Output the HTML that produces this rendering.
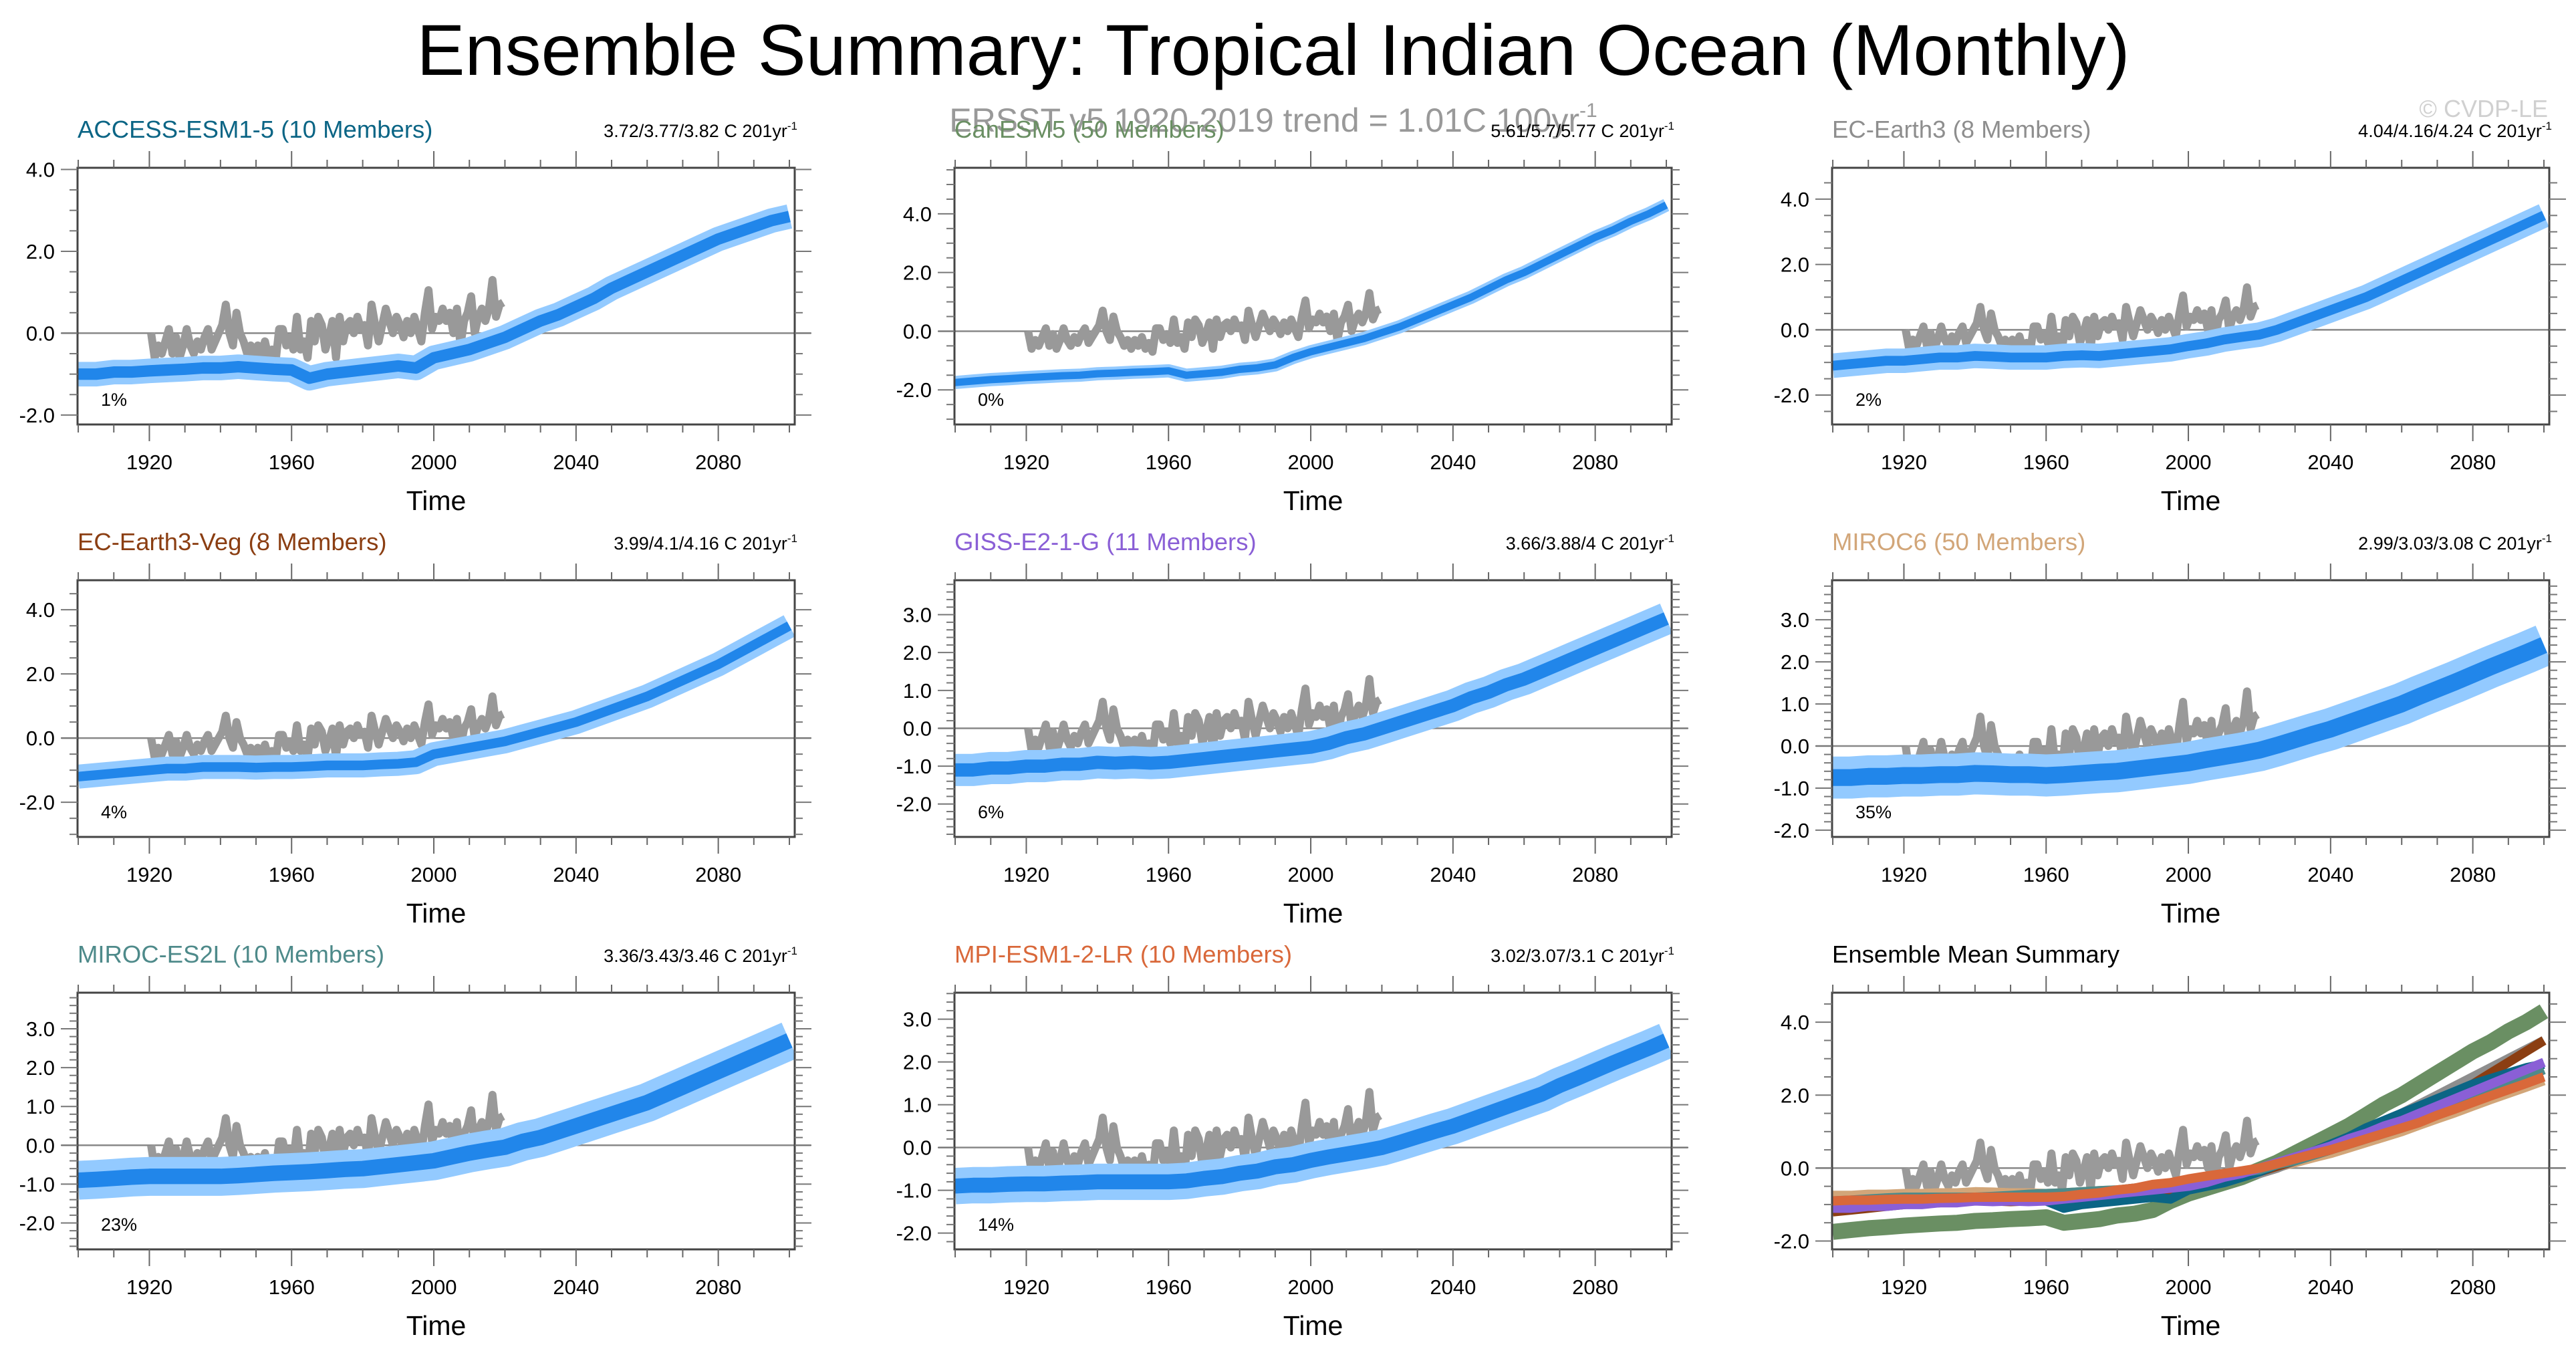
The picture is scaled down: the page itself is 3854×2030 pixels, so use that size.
<!DOCTYPE html>
<html><head><meta charset="utf-8"><style>
html,body{margin:0;padding:0;background:#fff}
svg{display:block;font-family:"Liberation Sans",sans-serif}
</style></head><body>
<svg id="fig" width="3854" height="2030" viewBox="0 0 3854 2030" xmlns="http://www.w3.org/2000/svg">
<text x="1905" y="112" font-size="108" text-anchor="middle" fill="#000">Ensemble Summary: Tropical Indian Ocean (Monthly)</text>
<text x="1905" y="197" font-size="50" text-anchor="middle" fill="#999">ERSST v5 1920-2019 trend = 1.01C 100yr<tspan dy="-22" font-size="30">-1</tspan></text>
<text x="3812" y="175" font-size="36" text-anchor="end" fill="#d0d0d0">© CVDP-LE</text>
</svg>
<script>
// ---- data ----
const obsStartYear = 1920;
const obsValues = [0.0,-0.6,-0.3,-0.5,-0.2,0.1,-0.5,-0.1,-0.6,-0.3,0.1,-0.3,-0.5,-0.2,-0.4,-0.1,0.1,-0.4,-0.2,0.0,0.2,0.7,0.0,-0.3,0.5,0.0,-0.2,-0.5,-0.3,-0.6,-0.3,-0.5,-0.2,-0.6,-0.4,-0.7,0.1,0.1,-0.3,-0.1,-0.4,0.4,-0.4,-0.2,-0.6,0.3,-0.2,0.4,0.2,-0.4,-0.1,0.3,-0.6,0.4,-0.2,0.2,0.3,0.0,0.4,0.1,0.2,-0.3,0.7,0.2,-0.2,0.2,0.6,0.3,0.0,0.4,0.2,-0.1,0.3,0.0,0.4,0.1,-0.2,0.5,1.05,0.1,0.4,0.3,0.6,0.3,0.5,0.0,0.6,-0.3,0.3,0.5,0.9,0.0,0.4,0.6,0.3,0.6,1.3,0.4,0.7,0.75];
const modelStartYear = 1900;
const modelStep = 5;
const modelNames = ["ACCESS-ESM1-5 (10 Members)","CanESM5 (50 Members)","EC-Earth3 (8 Members)","EC-Earth3-Veg (8 Members)","GISS-E2-1-G (11 Members)","MIROC6 (50 Members)","MIROC-ES2L (10 Members)","MPI-ESM1-2-LR (10 Members)"];
const trendLabels = ["3.72/3.77/3.82 C 201yr","5.61/5.7/5.77 C 201yr","4.04/4.16/4.24 C 201yr","3.99/4.1/4.16 C 201yr","3.66/3.88/4 C 201yr","2.99/3.03/3.08 C 201yr","3.36/3.43/3.46 C 201yr","3.02/3.07/3.1 C 201yr"];
const pctLabels = ["1%","0%","2%","4%","6%","35%","23%","14%"];
const accessMean = [-1.0,-1.0,-0.95,-0.95,-0.92,-0.9,-0.88,-0.85,-0.85,-0.82,-0.85,-0.88,-0.9,-1.1,-1.0,-0.95,-0.9,-0.85,-0.8,-0.85,-0.6,-0.5,-0.4,-0.25,-0.1,0.1,0.3,0.45,0.65,0.85,1.1,1.3,1.5,1.7,1.9,2.1,2.3,2.45,2.6,2.75,2.85];
const canesmMean = [-1.75,-1.7,-1.65,-1.62,-1.58,-1.55,-1.52,-1.5,-1.45,-1.43,-1.4,-1.38,-1.35,-1.5,-1.45,-1.4,-1.3,-1.25,-1.15,-0.9,-0.7,-0.55,-0.4,-0.25,-0.05,0.15,0.4,0.65,0.9,1.15,1.45,1.75,2.0,2.3,2.6,2.9,3.2,3.45,3.75,4.0,4.3];
const ecearthMean = [-1.1,-1.05,-1.0,-0.95,-0.95,-0.9,-0.85,-0.85,-0.8,-0.82,-0.85,-0.85,-0.85,-0.8,-0.78,-0.8,-0.75,-0.7,-0.65,-0.6,-0.5,-0.42,-0.3,-0.22,-0.15,0.0,0.2,0.4,0.6,0.8,1.0,1.25,1.5,1.75,2.0,2.25,2.5,2.75,3.0,3.25,3.5];
const ecvegMean = [-1.2,-1.15,-1.1,-1.05,-1.0,-0.95,-0.95,-0.9,-0.9,-0.9,-0.92,-0.9,-0.9,-0.88,-0.85,-0.85,-0.85,-0.82,-0.8,-0.75,-0.5,-0.4,-0.3,-0.2,-0.1,0.05,0.2,0.35,0.5,0.7,0.9,1.1,1.3,1.55,1.8,2.05,2.3,2.6,2.9,3.2,3.5];
const gissMean = [-1.1,-1.1,-1.05,-1.05,-1.0,-1.0,-0.95,-0.95,-0.9,-0.92,-0.9,-0.92,-0.9,-0.85,-0.8,-0.75,-0.7,-0.65,-0.6,-0.55,-0.5,-0.4,-0.25,-0.15,0.0,0.15,0.3,0.45,0.6,0.8,0.95,1.15,1.3,1.5,1.7,1.9,2.1,2.3,2.5,2.7,2.9];
const miroc6Mean = [-0.75,-0.75,-0.72,-0.72,-0.7,-0.7,-0.68,-0.68,-0.65,-0.66,-0.68,-0.68,-0.7,-0.68,-0.65,-0.62,-0.6,-0.55,-0.5,-0.45,-0.4,-0.32,-0.25,-0.18,-0.1,0.02,0.15,0.28,0.4,0.55,0.7,0.85,1.0,1.18,1.35,1.52,1.7,1.88,2.05,2.22,2.4];
const es2lMean = [-0.9,-0.88,-0.85,-0.82,-0.8,-0.8,-0.8,-0.8,-0.8,-0.78,-0.75,-0.72,-0.7,-0.68,-0.65,-0.62,-0.6,-0.55,-0.5,-0.45,-0.4,-0.3,-0.2,-0.12,-0.05,0.1,0.2,0.35,0.5,0.65,0.8,0.95,1.1,1.3,1.5,1.7,1.9,2.1,2.3,2.5,2.7];
const mpiMean = [-0.9,-0.88,-0.88,-0.86,-0.85,-0.85,-0.83,-0.82,-0.8,-0.8,-0.8,-0.8,-0.8,-0.78,-0.72,-0.68,-0.6,-0.55,-0.45,-0.4,-0.3,-0.22,-0.15,-0.08,0.0,0.12,0.25,0.38,0.5,0.65,0.8,0.95,1.1,1.25,1.45,1.62,1.8,1.98,2.15,2.32,2.5];
const xTickYears = [1920,1960,2000,2040,2080];
const yTicksA = [-2,0,2,4];
const yTicksB = [-2,-1,0,1,2,3];

// ---- layout/style (not data) ----
const means=[accessMean,canesmMean,ecearthMean,ecvegMean,gissMean,miroc6Mean,es2lMean,mpiMean];
const colors=["#0b6585","#6a8f63","#8e8e8e","#8b3e12","#8a5fd6","#d2a679","#4e8a8a","#d9683a"];
const yRanges=[[-2.23,4.04],[-3.18,5.57],[-2.9,4.96],[-3.08,4.92],[-2.87,3.91],[-2.16,3.94],[-2.68,3.93],[-2.38,3.62],[-2.23,4.81]];
const spreads=[[0.28,0.6],[0.25,0.45],[0.3,0.75],[0.3,0.75],[0.35,0.85],[0.4,1.0],[0.4,1.0],[0.35,0.85]];
const colX=[116,1428,2741], rowY=[251,868,1485], W=1073, H=384;
const NS="http://www.w3.org/2000/svg";
const svg=document.getElementById('fig');
function mk(tag,attrs,parent){const e=document.createElementNS(NS,tag);for(const k in attrs)e.setAttribute(k,attrs[k]);(parent||svg).appendChild(e);return e;}

for(let p=0;p<9;p++){
  const L=colX[p%3], T=rowY[Math.floor(p/3)], B=T+H, R=L+W;
  const [y0,y1]=yRanges[p];
  const xs=yr=>L+(yr-1899.8)/(2101.5-1899.8)*W;
  const ys=v=>B-(v-y0)/(y1-y0)*H;
  const g=mk('g',{});
  
  
  const cid='clip'+p;
  const cp=mk('clipPath',{id:cid},g); mk('rect',{x:L,y:T,width:W,height:H},cp);
  const zl=mk('line',{x1:L-24,x2:R+24,y1:ys(0),y2:ys(0),stroke:'#888','stroke-width':2.5},g);
  
  
  const plot=mk('g',{'clip-path':'url(#'+cid+')'},g);
  const obsPts=obsValues.map((v,i)=>xs(obsStartYear+i+0.5).toFixed(1)+','+ys(v).toFixed(1)).join(' ');
  const pxPerUnit=H/(y1-y0);
  if(p<8){
    const m=means[p];
    const pts=m.map((v,i)=>xs(modelStartYear+i*modelStep).toFixed(1)+','+ys(v).toFixed(1)).join(' ');
    const o=mk('polyline',{points:obsPts,fill:'none',stroke:'#999','stroke-width':12,'stroke-linejoin':'round'},plot);
    
    
    const s1=mk('polyline',{points:pts,fill:'none',stroke:'#93caff','stroke-width':spreads[p][1]*pxPerUnit,'stroke-linejoin':'round'},plot);
    
    
    const s2=mk('polyline',{points:pts,fill:'none',stroke:'#2186ea','stroke-width':spreads[p][0]*pxPerUnit,'stroke-linejoin':'round'},plot);
    
    
  } else {
    const o=mk('polyline',{points:obsPts,fill:'none',stroke:'#9a9a9a','stroke-width':12,'stroke-linejoin':'round'},plot);
    
    
    const order=[5,1,2,3,0,6,4,7];
    for(const k of order){
      const pts=means[k].map((v,i)=>xs(modelStartYear+i*modelStep).toFixed(1)+','+ys(v).toFixed(1)).join(' ');
      const l=mk('polyline',{points:pts,fill:'none',stroke:colors[k],'stroke-width':k==1?24:14,'stroke-linejoin':'round'},plot);
      
      
    }
  }
  const bx=mk('rect',{x:L,y:T,width:W,height:H,fill:'none',stroke:'#444','stroke-width':3},g);
  
  
  for(let yr=1900;yr<=2100;yr+=10){
    const x=xs(yr), major=xTickYears.includes(yr), len=major?25:12;
    mk('line',{x1:x,x2:x,y1:T,y2:T-len,stroke:'#666','stroke-width':2},g);
    mk('line',{x1:x,x2:x,y1:B,y2:B+len,stroke:'#666','stroke-width':2},g);
  }
  xTickYears.forEach(yr=>{
    const t=mk('text',{x:xs(yr),y:B+67,'font-size':31,'text-anchor':'middle',fill:'#000'},g);
    t.textContent=yr;
    
    
  });
  const useA=(p<4||p==8);
  const yt=useA?yTicksA:yTicksB, minor=useA?0.5:0.2;
  for(let v=Math.ceil(y0/minor)*minor; v<=y1+1e-9; v+=minor){
    const y=ys(v); const isMajor=yt.some(t=>Math.abs(t-v)<1e-6); const len=isMajor?25:12;
    mk('line',{x1:L,x2:L-len,y1:y,y2:y,stroke:'#777','stroke-width':2},g);
    mk('line',{x1:R,x2:R+len,y1:y,y2:y,stroke:'#777','stroke-width':2},g);
  }
  yt.forEach(v=>{
    if(v<y0||v>y1) return;
    const t=mk('text',{x:L-34,y:ys(v)+11,'font-size':31,'text-anchor':'end',fill:'#000'},g);
    t.textContent=v.toFixed(1);
    
    
  });
  const xt=mk('text',{x:L+W/2,y:B+128,'font-size':41,'text-anchor':'middle',fill:'#000'},g);
  xt.textContent='Time';
  
  
  const tt=mk('text',{x:L,y:T-45,'font-size':36.5,fill:p<8?colors[p]:'#000'},g);
  tt.textContent=p<8?modelNames[p]:'Ensemble Mean Summary';
  
  
  if(p<8){
    const tr=mk('text',{x:R+4,y:T-46,'font-size':27,'text-anchor':'end',fill:'#000'},g);
    tr.textContent=trendLabels[p];
    const sup=mk('tspan',{dy:-11,'font-size':17},tr); sup.textContent='-1';
    
    
    const pc=mk('text',{x:L+35,y:B-28,'font-size':27,fill:'#000'},g);
    pc.textContent=pctLabels[p];
    
    
  }
}
</script>
</body></html>
